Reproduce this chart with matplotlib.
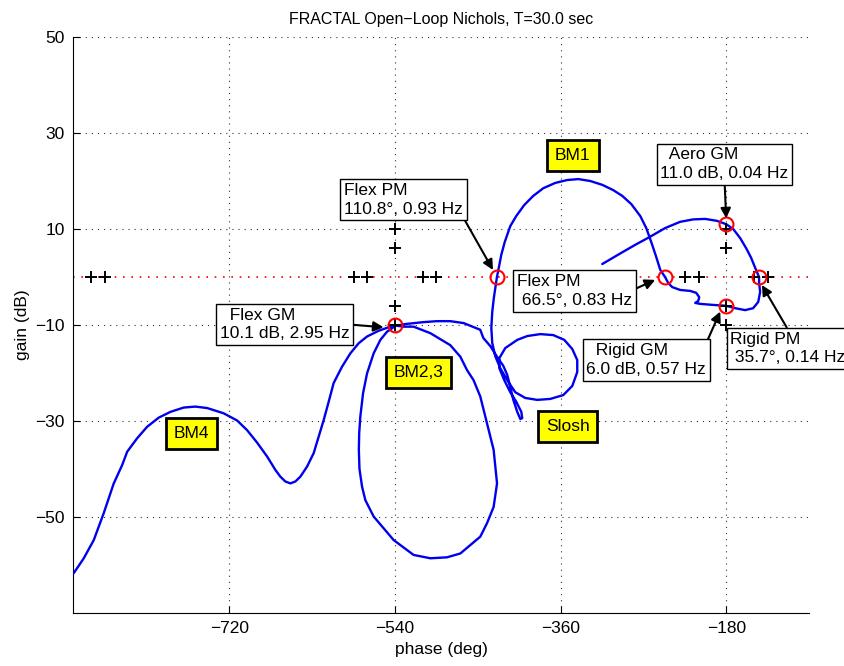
import matplotlib
matplotlib.use("Agg")
import matplotlib.pyplot as plt

plt.rcParams['font.family'] = ['Liberation Sans', 'DejaVu Sans']

# ---- data (phase in deg, gain in dB) ----
curve_phase = [
    # BM4 hump and rise
    -889.2, -878.3, -867.4, -856.6, -845.7, -836.6, -831.1, -820.3, -809.4, -796.8,
    -784.1, -769.7, -756.9, -744.2, -726.2, -711.6, -700.8, -689.9, -679.0, -670.0,
    -664.6, -659.2, -653.7, -648.3, -642.9, -635.6, -628.4, -623.0, -617.5, -612.1,
    -606.7, -597.6, -588.5, -579.5, -570.4, -557.8, -545.1, -540.0,
    # BM2,3 loop (first pass, right side down, bottom, left side up)
    -530.6, -519.8, -501.6, -479.9, -469.0, -461.7, -454.6, -447.3, -440.0, -432.8,
    -429.1, -432.8, -440.0, -447.3, -469.0, -483.5, -501.6, -519.8, -541.5, -563.2,
    -572.2, -575.8, -578.6, -579.3, -578.9, -577.7, -574.7, -570.4, -563.2, -555.9,
    -548.7, -539.6,
    # second pass over the top and down into slosh
    -528.8, -508.9, -494.3, -479.9, -465.4, -447.3, -444.0, -436.4, -428.8, -422.3,
    -418.0, -414.7, -411.4, -407.1, -403.8, -401.7, -402.7, -408.2, -414.7, -421.2,
    -426.6,
    # slosh circle
    -426.6, -420.1, -407.1, -396.2, -382.1, -368.0, -356.0, -347.3, -341.9, -341.9,
    -347.3, -357.1, -371.2, -385.4, -398.4, -409.3, -418.0, -425.6, -431.0, -434.3,
    -435.3, -434.3, -432.6, -431.0, -429.2,
    # BM1
    -427.2, -424.5, -420.7, -414.7, -408.2, -399.5, -389.7, -378.8, -365.8, -352.8,
    -340.8, -327.8, -314.7, -302.8, -293.0, -283.2, -273.4, -266.9, -261.5, -256.1,
    -251.7, -246.5,
    # rigid body region
    -243.0, -238.7, -230.0, -219.1, -212.6, -209.3, -210.4, -213.7, -208.3, -195.2,
    -180.0, -170.2, -159.4, -150.7, -145.2, -143.1, -144.2, -144.3, -148.5, -152.9,
    -158.3, -164.8, -172.4, -180.0, -190.1, -202.8, -215.9, -230.0, -246.3, -262.6,
    -278.9, -295.2, -314.7,
]
curve_gain = [
    -61.7, -58.6, -54.8, -49.2, -43.0, -39.2, -36.4, -33.6, -31.2, -29.3,
    -28.1, -27.2, -27.0, -27.3, -28.4, -29.9, -31.9, -34.5, -37.4, -40.2,
    -41.6, -42.6, -43.0, -42.6, -41.6, -39.5, -36.7, -33.3, -29.8, -26.0,
    -22.1, -18.7, -15.9, -13.8, -12.4, -11.2, -10.35, -10.1,
    -10.35, -10.35, -11.7, -14.2, -16.6, -19.4, -21.5, -24.9, -30.5, -36.0,
    -43.0, -47.9, -51.3, -54.1, -57.6, -58.4, -58.6, -57.9, -54.8, -49.9,
    -46.5, -43.7, -40.0, -36.0, -32.5, -29.1, -24.2, -20.1, -15.9, -13.1,
    -11.4, -10.2,
    -9.8, -9.4, -9.2, -9.2, -9.6, -11.0, -12.7, -14.4, -16.7, -18.5,
    -20.4, -22.9, -25.6, -28.1, -29.6, -29.4, -28.1, -26.0, -24.0, -21.5,
    -19.0,
    -16.9, -14.8, -13.1, -12.3, -11.9, -12.1, -13.1, -15.0, -17.3, -19.8,
    -22.7, -24.6, -25.4, -25.6, -25.2, -24.0, -21.5, -19.0, -16.5, -13.75,
    -10.6, -7.3, -4.4, -2.3, 0.0,
    1.9, 4.6, 7.3, 10.6, 12.7, 15.0, 16.9, 18.5, 19.6, 20.2,
    20.4, 20.0, 19.2, 18.1, 16.9, 15.2, 12.7, 10.2, 7.3, 4.2,
    1.5, 0.0,
    -1.25, -2.1, -2.7, -2.9, -3.3, -4.2, -5.0, -5.4, -5.6, -5.8,
    -6.0, -6.5, -6.9, -6.5, -5.2, -3.1, -1.25, 0.0, 1.9, 4.0,
    6.0, 8.1, 10.0, 11.0, 11.7, 12.1, 12.0, 11.5, 10.2, 8.4,
    6.7, 4.9, 2.7,
]

# margin markers (+)
plus_phase = [-870, -855, -585, -570, -510, -495, -225, -210, -150, -135,
              -540, -540, -540, -540, -180, -180, -180, -180]
plus_gain = [0, 0, 0, 0, 0, 0, 0, 0, 0, 0,
             10, 6, -6, -10, 10, 6, -6, -10]

# margin points (red circles)
margin_phase = [-540.0, -429.2, -246.5, -180.0, -180.0, -144.3]
margin_gain = [-10.1, 0.0, 0.0, 11.0, -6.0, 0.0]

# annotations: text, text anchor (top-left), arrow target, arrow start (relative)
ann_text = ["Flex PM\n110.8°, 0.93 Hz",
            "  Flex GM\n10.1 dB, 2.95 Hz",
            "Flex PM\n 66.5°, 0.83 Hz",
            "  Aero GM\n11.0 dB, 0.04 Hz",
            "  Rigid GM\n6.0 dB, 0.57 Hz",
            "Rigid PM\n 35.7°, 0.14 Hz"]
ann_text_phase = [-595.6, -730.3, -407.3, -251.5, -331.9, -175.4]
ann_text_gain = [19.6, -6.4, 0.6, 27.0, -13.8, -11.4]
ann_tip_phase = [-433.5, -552.4, -257.2, -180.0, -186.5, -141.2]
ann_tip_gain = [1.46, -10.48, -0.6, 12.2, -7.2, -1.67]
ann_relpos = [(1, 0), (1, 0.5), (1, 0.52), (0.5, 0), (1, 1), (0.51, 1)]

mode_labels = ["BM1", "BM2,3", "Slosh", "BM4"]
mode_phase = [-346.6, -514.7, -352.2, -761.6]
mode_gain = [25.35, -19.96, -31.2, -32.6]

x_ticks = [-720, -540, -360, -180]
y_ticks = [-50, -30, -10, 10, 30, 50]

# ---- figure ----
fig = plt.figure(figsize=(8.45, 6.66), dpi=100)
ax = fig.add_axes([73 / 845, 53 / 666, (809 - 73) / 845, (613 - 37) / 666])
ax.set_xlim(-890, -90)
ax.set_ylim(-70, 50)
ax.set_xticks(x_ticks)
ax.set_yticks(y_ticks)
ax.set_xticklabels([str(t).replace('-', '\u2212') for t in x_ticks])
ax.set_yticklabels([str(t).replace('-', '\u2212') for t in y_ticks])
ax.tick_params(direction='in', length=5, labelsize=12.5, pad=6)
for s in ['top', 'right']:
    ax.spines[s].set_visible(False)
ax.grid(True, linestyle=(0, (1, 4.5)), color='#333333', linewidth=0.8)
ax.set_axisbelow(True)

ax.axhline(0, color='red', linestyle=(0, (1, 4)), linewidth=1.2, zorder=1)

ax.plot(curve_phase, curve_gain, color='#0000ee', linewidth=1.7,
        solid_joinstyle='round', solid_capstyle='round', zorder=3)

ax.plot(plus_phase, plus_gain, linestyle='none', marker='+', color='black',
        markersize=9, markeredgewidth=1.4, zorder=4)
ax.plot(margin_phase, margin_gain, linestyle='none', marker='o', markersize=10,
        markerfacecolor='none', markeredgecolor='red', markeredgewidth=1.5, zorder=5)

for t, tx, ty, px, py, rp in zip(ann_text, ann_text_phase, ann_text_gain,
                                  ann_tip_phase, ann_tip_gain, ann_relpos):
    ax.annotate(t, xy=(px, py), xytext=(tx, ty), textcoords='data',
                ha='left', va='top', fontsize=12.5, linespacing=1.3,
                bbox=dict(boxstyle='square,pad=0.22', facecolor='white',
                          edgecolor='black', linewidth=1.0),
                arrowprops=dict(arrowstyle='-|>', color='black', lw=1.5,
                                mutation_scale=15, relpos=rp, shrinkA=0, shrinkB=0),
                annotation_clip=False, zorder=6)

for t, x, y in zip(mode_labels, mode_phase, mode_gain):
    ax.text(x, y, t, ha='center', va='center', fontsize=12.5, zorder=6,
            bbox=dict(boxstyle='square,pad=0.45', facecolor='yellow',
                      edgecolor='black', linewidth=2.0))

ax.set_xlabel('phase (deg)', fontsize=12.5, labelpad=4)
ax.set_ylabel('gain (dB)', fontsize=12.5, labelpad=4)
ax.set_title('FRACTAL Open\u2212Loop Nichols, T=30.0 sec', fontsize=11.5, pad=9)

fig.savefig('out.png', dpi=100)
